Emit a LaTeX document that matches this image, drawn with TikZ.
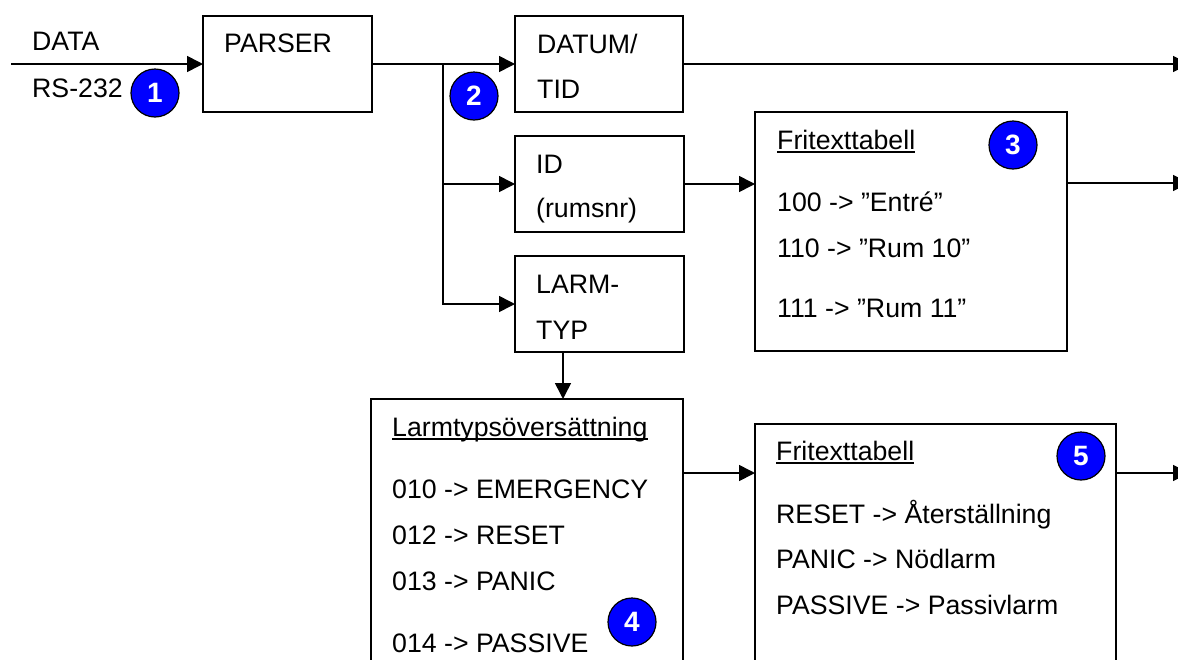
\documentclass[tikz,border=0pt]{standalone}
\usepackage{fontspec}
\setmainfont{Liberation Sans}
\usetikzlibrary{arrows.meta,calc}
\tikzset{
  ln/.style={line width=1.6pt},
  arr/.style={ln,-{Triangle[length=16pt,width=16pt]}},
  box/.style={draw,line width=1.6pt,rectangle,inner sep=0pt,outer sep=0pt,anchor=north west},
  txt/.style={inner sep=0pt,anchor=base west,font=\fontsize{26.7}{32}\selectfont},
  badge/.style={circle,draw=black,line width=1.2pt,fill={rgb,255:red,0;green,0;blue,255},minimum size=48pt,inner sep=0pt,text=white,font=\fontsize{28}{32}\selectfont\bfseries},
  ul/.style={line width=1.5pt}
}
\begin{document}
\begin{tikzpicture}[x=1pt,y=-1pt]
\useasboundingbox (0,0) rectangle (1178,659);
\clip (0,0) rectangle (1178,659);
% boxes
\node[box,minimum width=169pt,minimum height=96pt] (parser) at (203,16) {};
\node[box,minimum width=168pt,minimum height=96pt] (datum) at (515,16) {};
\node[box,minimum width=169pt,minimum height=96pt] (id) at (515,136) {};
\node[box,minimum width=169pt,minimum height=96pt] (larm) at (515,256) {};
\node[box,minimum width=312pt,minimum height=239pt] (fri3) at (755,112) {};
\node[box,minimum width=312pt,minimum height=320pt] (lts) at (371,399) {};
\node[box,minimum width=361pt,minimum height=320pt] (fri5) at (755,424) {};
% texts
\node[txt] (tdata) at (32,50) {DATA};
\node[txt] (trs) at (32,97) {RS-232};
\node[txt] (tparser) at (224,52) {PARSER};
\node[txt] (tdatum) at (537,53) {DATUM/};
\node[txt] (ttid) at (537,98) {TID};
\node[txt] (tid) at (536,173) {ID};
\node[txt] (trum) at (536,217) {(rumsnr)};
\node[txt] (tlarm) at (536,293) {LARM-};
\node[txt] (ttyp) at (536,339) {TYP};
\node[txt] (tf3) at (777,149) {Fritexttabell};
\node[txt] (t100) at (777,211) {100 -> ”Entré”};
\node[txt] (t110) at (777,257) {110 -> ”Rum 10”};
\node[txt] (t111) at (777,317) {111 -> ”Rum 11”};
\node[txt] (tlts) at (392,436) {Larmtypsöversättning};
\node[txt] (t010) at (392,498) {010 -> EMERGENCY};
\node[txt] (t012) at (392,544) {012 -> RESET};
\node[txt] (t013) at (392,590) {013 -> PANIC};
\node[txt] (t014) at (392,652) {014 -> PASSIVE};
\node[txt] (tf5) at (776,460) {Fritexttabell};
\node[txt] (treset) at (776,523) {RESET -> Återställning};
\node[txt] (tpanic) at (776,568) {PANIC -> Nödlarm};
\node[txt] (tpass) at (776,614) {PASSIVE -> Passivlarm};
% underlines
\draw[ul] ([yshift=-3pt]tf3.base west) -- ([yshift=-3pt]tf3.base east);
\draw[ul] ([yshift=-3pt]tlts.base west) -- ([yshift=-3pt]tlts.base east);
\draw[ul] ([yshift=-3pt]tf5.base west) -- ([yshift=-3pt]tf5.base east);
% badges
\node[badge] (b1) at (155,93) {1};
\node[badge] (b2) at (474,96) {2};
\node[badge] (b3) at (1013,145) {3};
\node[badge] (b4) at (632,622) {4};
\node[badge] (b5) at (1081,456) {5};
% connectors
\coordinate (in) at (11,64);
\coordinate (br) at (443,64);
\coordinate (o1) at (1189,64);
\coordinate (o2) at (1189,183);
\coordinate (o3) at (1189,473);
\coordinate (ld) at ($(larm.south west)+(48,0)$);
\draw[arr] (in) -- (parser.west);
\draw[arr] (parser.east) -- (datum.west);
\draw[arr] (br) |- (id.west);
\draw[arr] (br) |- (larm.west);
\draw[arr] (datum.east) -- (o1);
\draw[arr] (id.east) -- (id.east -| fri3.west);
\draw[arr] (o2 -| fri3.east) -- (o2);
\draw[arr] (ld) -- (ld |- lts.north);
\draw[arr] (o3 -| lts.east) -- (o3 -| fri5.west);
\draw[arr] (o3 -| fri5.east) -- (o3);
\end{tikzpicture}
\end{document}
